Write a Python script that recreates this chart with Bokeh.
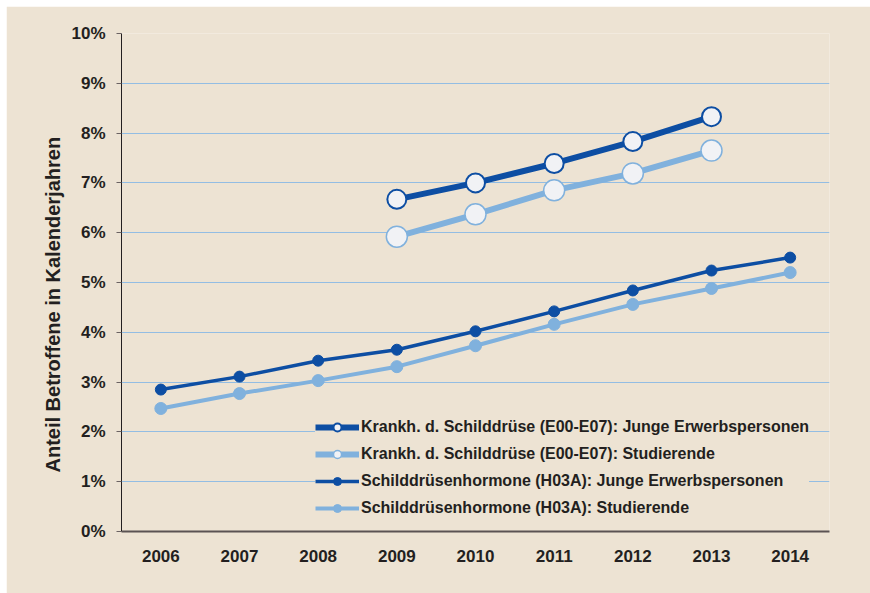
from bokeh.plotting import figure
from bokeh.models import Legend, LegendItem, FixedTicker, PrintfTickFormatter, Range1d, FactorRange, Title
from bokeh.embed import file_html
from bokeh.resources import INLINE

years = ["2006", "2007", "2008", "2009", "2010", "2011", "2012", "2013", "2014"]
years_e = ["2009", "2010", "2011", "2012", "2013"]
krankh_junge = [6.67, 7.00, 7.39, 7.83, 8.33]
krankh_stud = [5.92, 6.37, 6.85, 7.19, 7.65]
hormone_junge = [2.85, 3.11, 3.43, 3.65, 4.02, 4.42, 4.84, 5.24, 5.50]
hormone_stud = [2.47, 2.77, 3.03, 3.31, 3.73, 4.16, 4.56, 4.88, 5.20]
y_ticks = [0, 1, 2, 3, 4, 5, 6, 7, 8, 9, 10]
y_title = "Anteil Betroffene in Kalenderjahren"
labels = [
    "Krankh. d. Schilddrüse (E00-E07): Junge Erwerbspersonen",
    "Krankh. d. Schilddrüse (E00-E07): Studierende",
    "Schilddrüsenhormone (H03A): Junge Erwerbspersonen",
    "Schilddrüsenhormone (H03A): Studierende",
]

BG = "#ede3d3"
DARK = "#0d4ea3"
LIGHT = "#80b1dd"
TXT = "#231f20"
FONT = "Liberation Sans"

p = figure(width=864, height=587, x_range=FactorRange(*years), y_range=Range1d(0, 10),
           output_backend="svg", toolbar_location=None,
           min_border_left=115, min_border_right=41, min_border_top=27, min_border_bottom=62)
p.margin = (6, 0, 0, 6)
p.background_fill_color = BG
p.border_fill_color = BG
p.outline_line_color = None

p.xgrid.grid_line_color = None
p.ygrid.grid_line_color = "#93bde3"
p.ygrid.grid_line_width = 1
p.ygrid.ticker = FixedTicker(ticks=y_ticks[1:])

p.yaxis.ticker = FixedTicker(ticks=y_ticks)
p.yaxis.formatter = PrintfTickFormatter(format="%d%%")
p.yaxis.axis_line_color = "#231f20"
p.yaxis.axis_line_width = 1
p.yaxis.major_tick_line_color = "#6b6262"
p.yaxis.major_tick_out = 5
p.yaxis.major_tick_in = 0
p.yaxis.minor_tick_line_color = None
p.yaxis.major_label_standoff = 11

p.xaxis.axis_line_color = "#5b5353"
p.xaxis.axis_line_width = 2
p.xaxis.major_tick_line_color = None
p.xaxis.minor_tick_line_color = None
p.xaxis.major_label_standoff = 12

for ax in (p.xaxis, p.yaxis):
    ax.major_label_text_font = FONT
    ax.major_label_text_font_style = "bold"
    ax.major_label_text_font_size = "17px"
    ax.major_label_text_color = TXT

ytitle = Title(text=y_title, align="left", offset=59, standoff=10,
               text_font=FONT, text_font_style="bold", text_font_size="20px",
               text_color=TXT)
p.add_layout(ytitle, "left")

r_hs_l = p.line(years, hormone_stud, line_color=LIGHT, line_width=4)
r_hs_m = p.scatter(years, hormone_stud, size=12, fill_color=LIGHT, line_color=LIGHT)
r_hj_l = p.line(years, hormone_junge, line_color=DARK, line_width=3.5)
r_hj_m = p.scatter(years, hormone_junge, size=11, fill_color=DARK, line_color=DARK)

r_ks_l = p.line(years_e, krankh_stud, line_color=LIGHT, line_width=6)
r_ks_m = p.scatter(years_e, krankh_stud, size=21, fill_color="#f1f2f5", line_color=LIGHT, line_width=1.5)
r_kj_l = p.line(years_e, krankh_junge, line_color=DARK, line_width=6)
r_kj_m = p.scatter(years_e, krankh_junge, size=19, fill_color="#f1f2f5", line_color=DARK, line_width=2)

items = [
    LegendItem(label=labels[0], renderers=[r_kj_l, r_kj_m]),
    LegendItem(label=labels[1], renderers=[r_ks_l, r_ks_m]),
    LegendItem(label=labels[2], renderers=[r_hj_l, r_hj_m]),
    LegendItem(label=labels[3], renderers=[r_hs_l, r_hs_m]),
]
legend = Legend(items=items, location=(194, 10))
legend.background_fill_color = BG
legend.background_fill_alpha = 1
legend.border_line_color = None
legend.label_text_font = FONT
legend.label_text_font_style = "bold"
legend.label_text_font_size = "16px"
legend.label_text_color = TXT
legend.glyph_width = 44
legend.glyph_height = 20
legend.label_height = 27
legend.label_standoff = 2
legend.spacing = 0
legend.padding = 5
legend.margin = 0
p.add_layout(legend, "center")

open("out.html", "w").write(file_html(p, INLINE))
